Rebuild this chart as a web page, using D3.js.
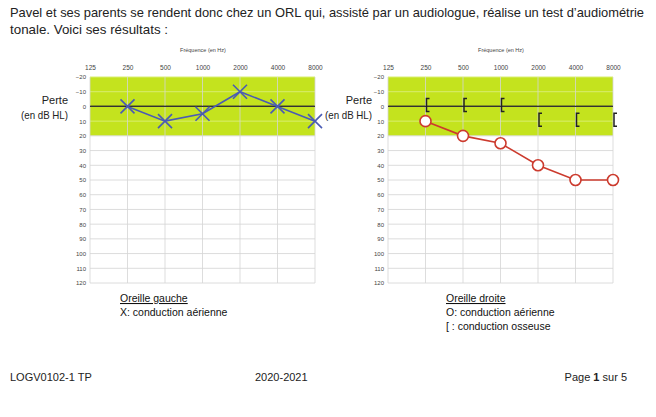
<!DOCTYPE html>
<html>
<head>
<meta charset="utf-8">
<script src="https://cdn.jsdelivr.net/npm/d3@7"></script>
<style>
  body { margin: 0; background: #fff; }
  text { font-family: "Liberation Sans", Arial, sans-serif; }
</style>
</head>
<body>
<script>
// audiogramme : oreille gauche / oreille droite

var freqs = ['125', '250', '500', '1000', '2000', '4000', '8000'];
var dbTicks = [-20, -10, 0, 10, 20, 30, 40, 50, 60, 70, 80, 90, 100, 110, 120];

var gaucheFreqs = ['250', '500', '1000', '2000', '4000', '8000'];
var gaucheAir = [0, 10, 5, -10, 0, 10];

var droiteFreqs = ['250', '500', '1000', '2000', '4000', '8000'];
var droiteAir = [10, 20, 25, 40, 50, 50];
var droiteOs = [0, 0, 0, 10, 10, 10];

var svg = d3.select('body').append('svg')
  .attr('width', 656)
  .attr('height', 417)

// texte du haut
svg.append('text')
  .attr('x', 10).attr('y', 17)
  .attr('font-size', 13)
  .attr('fill', '#222')
  .attr('textLength', 634).attr('lengthAdjust', 'spacingAndGlyphs')
  .text('Pavel et ses parents se rendent donc chez un ORL qui, assisté par un audiologue, réalise un test d’audiométrie')
svg.append('text')
  .attr('x', 10).attr('y', 34)
  .attr('font-size', 13)
  .attr('fill', '#222')
  .attr('textLength', 158).attr('lengthAdjust', 'spacingAndGlyphs')
  .text('tonale. Voici ses résultats :')

var y = d3.scaleLinear().domain([-20, 120]).range([77, 283]);

function drawChart(left, labelRight) {
  var x = d3.scalePoint().domain(freqs).range([left, left + 225]);
  var g = svg.append('g');

  g.append('text')
    .attr('x', left + 113).attr('y', 52)
    .attr('text-anchor', 'middle')
    .attr('font-size', 5.5).attr('fill', '#444')
    .text('Fréquence (en Hz)')

  // zone verte
  g.append('rect')
    .attr('x', x('125')).attr('y', y(-20))
    .attr('width', x('8000') - x('125'))
    .attr('height', y(20) - y(-20))
    .attr('fill', '#c4e31e')

  // grille
  g.selectAll('.hg').data(dbTicks).enter().append('line')
    .attr('x1', x('125')).attr('x2', x('8000'))
    .attr('y1', function(d) { return y(d) }).attr('y2', function(d) { return y(d) })
    .attr('stroke', function(d) { return d === 0 ? '#333' : (d < 20 ? '#d8ee70' : '#dcdcdc') })
    .attr('stroke-width', function(d) { return d === 0 ? 1.3 : 1 })

  g.selectAll('.vg').data(freqs).enter().append('line')
    .attr('x1', function(d) { return x(d) }).attr('x2', function(d) { return x(d) })
    .attr('y1', y(-20)).attr('y2', y(120))
    .attr('stroke', '#d4d4d4')
    .attr('stroke-opacity', 0.8)

  // redessiner ligne zero
  g.append('line')
    .attr('x1', x('125')).attr('x2', x('8000'))
    .attr('y1', y(0)).attr('y2', y(0))
    .attr('stroke', '#333').attr('stroke-width', 1.3)

  // axes
  var top = d3.axisTop(x).tickSize(0).tickPadding(0);
  g.append('g').attr('transform', 'translate(0,70)').call(top)
    .call(function(a) { a.select('.domain').remove() })
    .selectAll('text').attr('font-size', 6.5).attr('fill', '#444')
    .style('font-family', '"Liberation Sans", Arial, sans-serif')

  var lefty = d3.axisLeft(y).tickValues(dbTicks).tickSize(0).tickPadding(0);
  g.append('g').attr('transform', 'translate(' + (left - 4) + ',0)').call(lefty)
    .call(function(a) { a.select('.domain').remove() })
    .selectAll('text').attr('font-size', 6).attr('fill', '#444')
    .style('font-family', '"Liberation Sans", Arial, sans-serif')

  g.append('text')
    .attr('x', labelRight).attr('y', 104)
    .attr('text-anchor', 'end').attr('font-size', 11).attr('fill', '#222')
    .text('Perte')
  g.append('text')
    .attr('x', labelRight).attr('y', 119)
    .attr('text-anchor', 'end').attr('font-size', 11).attr('fill', '#222')
    .attr('textLength', 47).attr('lengthAdjust', 'spacingAndGlyphs')
    .text('(en dB HL)')

  return { g: g, x: x };
}

// oreille gauche
var c1 = drawChart(90, 68);
var pts1 = gaucheFreqs.map(function(f, i) { return { f: f, v: gaucheAir[i] } });
var line1 = d3.line().x(function(d) { return c1.x(d.f) }).y(function(d) { return y(d.v) });
c1.g.append('path').datum(pts1)
  .attr('d', line1).attr('fill', 'none')
  .attr('stroke', '#4a5bb5').attr('stroke-width', 1.6)
c1.g.selectAll('.xm').data(pts1).enter().append('path')
  .attr('transform', function(d) { return 'translate(' + c1.x(d.f) + ',' + y(d.v) + ')' })
  .attr('d', 'M-7,-7L7,7M-7,7L7,-7')
  .attr('stroke', '#4a5bb5').attr('stroke-width', 1.6)

// oreille droite
var c2 = drawChart(388, 372);
var pts2 = droiteFreqs.map(function(f, i) { return { f: f, v: droiteAir[i] } });
var line2 = d3.line().x(function(d) { return c2.x(d.f) }).y(function(d) { return y(d.v) });
c2.g.append('path').datum(pts2)
  .attr('d', line2).attr('fill', 'none')
  .attr('stroke', '#cc3b2e').attr('stroke-width', 1.6)
c2.g.selectAll('.om').data(pts2).enter().append('circle')
  .attr('cx', function(d) { return c2.x(d.f) })
  .attr('cy', function(d) { return y(d.v) })
  .attr('r', 5.5)
  .attr('fill', '#fff')
  .attr('stroke', '#cc3b2e').attr('stroke-width', 1.6)

var pts3 = droiteFreqs.map(function(f, i) { return { f: f, v: droiteOs[i] } });
c2.g.selectAll('.bm').data(pts3).enter().append('path')
  .attr('transform', function(d) { return 'translate(' + (c2.x(d.f) + 1) + ',' + (y(d.v) - 1.5) + ')' })
  .attr('d', 'M3,-6.5L0,-6.5L0,6.5L3,6.5')
  .attr('fill', 'none')
  .attr('stroke', '#222').attr('stroke-width', 1.5)

// légendes
function legend(x0, lines) {
  lines.forEach(function(t, i) {
    var tx = svg.append('text')
      .attr('x', x0).attr('y', 302 + i * 14)
      .attr('font-size', 10.5).attr('fill', '#111')
      .text(t)
    if (i === 0) tx.attr('text-decoration', 'underline')
  })
}
legend(120, ['Oreille gauche', 'X: conduction aérienne'])
legend(446, ['Oreille droite', 'O: conduction aérienne', '[  : conduction osseuse'])

// pied de page
svg.append('text').attr('x', 10).attr('y', 381).attr('font-size', 11).attr('fill', '#222').text('LOGV0102-1 TP')
svg.append('text').attr('x', 255).attr('y', 381).attr('font-size', 11).attr('fill', '#222').text('2020-2021')
var pg = svg.append('text').attr('x', 627).attr('y', 381).attr('font-size', 11).attr('fill', '#222').attr('text-anchor', 'end')
pg.append('tspan').text('Page ')
pg.append('tspan').attr('font-weight', 'bold').text('1')
pg.append('tspan').text(' sur 5')
</script>
</body>
</html>
